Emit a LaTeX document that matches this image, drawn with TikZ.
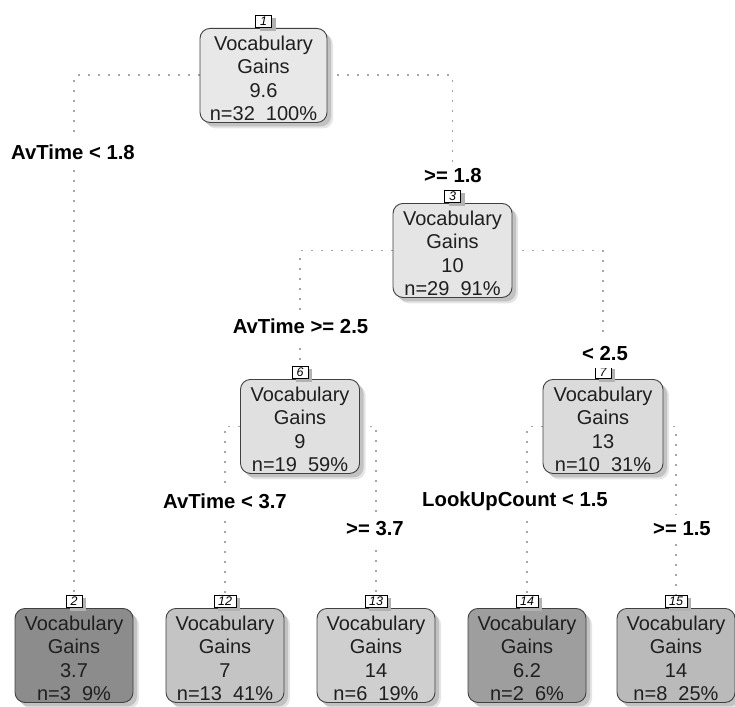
\documentclass[tikz,border=0pt]{standalone}
\usepackage{fontspec}
\setmainfont{Liberation Sans}
\usetikzlibrary{shadows,backgrounds}
\begin{document}
\begin{tikzpicture}[x=1pt,y=-1pt,
 vbox/.style={draw=black!75, line width=0.9pt, rounded corners=10pt, minimum height=94pt,
   inner sep=0pt, align=center, font=\fontsize{20}{23.3}\selectfont, text=black!88, anchor=north,
   drop shadow={shadow xshift=6pt,shadow yshift=-6pt,fill=black!10,opacity=1},
   drop shadow={shadow xshift=4pt,shadow yshift=-4pt,fill=black!24,opacity=1}},
 numbox/.style={draw=black, line width=0.7pt, fill=white, inner xsep=4pt, inner ysep=0pt,
   minimum height=12.5pt, minimum width=16pt, font=\fontsize{12.5}{12.5}\selectfont\itshape, anchor=south,
   drop shadow={shadow xshift=4pt, shadow yshift=-3pt, fill=black!30, opacity=1}},
 conn/.style={draw=black!35, line width=1.9pt, dash pattern=on 1.9pt off 8.1pt},
 lab/.style={fill=white, inner xsep=2pt, inner ysep=7pt, font=\fontsize{20.3}{21}\selectfont\bfseries, text=black}
]
\useasboundingbox (0,0) rectangle (735,706);

% decision nodes
\node[vbox, fill=black!9,  minimum width=127pt] (n1) at (263.5,28)  {\rule{0pt}{20pt}Vocabulary\\Gains\\9.6\\n=32\ \ 100\%};
\node[vbox, fill=black!10, minimum width=119pt] (n3) at (452.5,203) {\rule{0pt}{20pt}Vocabulary\\Gains\\10\\n=29\ \ 91\%};
\node[vbox, fill=black!12, minimum width=119pt] (n6) at (300,379)   {\rule{0pt}{20pt}Vocabulary\\Gains\\9\\n=19\ \ 59\%};
\node[vbox, fill=black!14, minimum width=120pt] (n7) at (603,379)   {\rule{0pt}{20pt}Vocabulary\\Gains\\13\\n=10\ \ 31\%};

% leaves
\node[vbox, fill=black!45, minimum width=118pt] (n2)  at (74,608)  {\rule{0pt}{20pt}Vocabulary\\Gains\\3.7\\n=3\ \ 9\%};
\node[vbox, fill=black!23, minimum width=118pt] (n12) at (225,608) {\rule{0pt}{20pt}Vocabulary\\Gains\\7\\n=13\ \ 41\%};
\node[vbox, fill=black!19, minimum width=118pt] (n13) at (376,608) {\rule{0pt}{20pt}Vocabulary\\Gains\\14\\n=6\ \ 19\%};
\node[vbox, fill=black!38, minimum width=118pt] (n14) at (527,608) {\rule{0pt}{20pt}Vocabulary\\Gains\\6.2\\n=2\ \ 6\%};
\node[vbox, fill=black!27, minimum width=118pt] (n15) at (676,608) {\rule{0pt}{20pt}Vocabulary\\Gains\\14\\n=8\ \ 25\%};

% number tags
\node[numbox] (l1)  at (n1.north)  {1};
\node[numbox] (l3)  at (n3.north)  {3};
\node[numbox] (l6)  at (n6.north)  {6};
\node[numbox] (l7)  at (n7.north)  {7};
\node[numbox] (l2)  at (n2.north)  {2};
\node[numbox] (l12) at (n12.north) {12};
\node[numbox] (l13) at (n13.north) {13};
\node[numbox] (l14) at (n14.north) {14};
\node[numbox] (l15) at (n15.north) {15};

% connectors
\begin{scope}[on background layer]
\draw[conn] (n1.west) -| (l2.north);
\draw[conn] (n1.east) -| (l3.north);
\draw[conn] (n3.west) -| (l6.north);
\draw[conn] (n3.east) -| (l7.north);
\draw[conn] (n6.west) -| (l12.north);
\draw[conn] (n6.east) -| (l13.north);
\draw[conn] (n7.west) -| (l14.north);
\draw[conn] (n7.east) -| (l15.north);
\end{scope}

% split labels
\node[lab] (s1)  at (73,152)    {AvTime < 1.8};
\node[lab] (s1r) at (453,176)   {>= 1.8};
\node[lab] (s3)  at (300.5,326) {AvTime >= 2.5};
\node[lab] (s3r) at (605,354)   {< 2.5};
\node[lab] (s6)  at (225,501)   {AvTime < 3.7};
\node[lab] (s6r) at (375,529)   {>= 3.7};
\node[lab] (s7)  at (515,501)   {LookUpCount < 1.5};
\node[lab] (s7r) at (682,529)   {>= 1.5};
\end{tikzpicture}
\end{document}
